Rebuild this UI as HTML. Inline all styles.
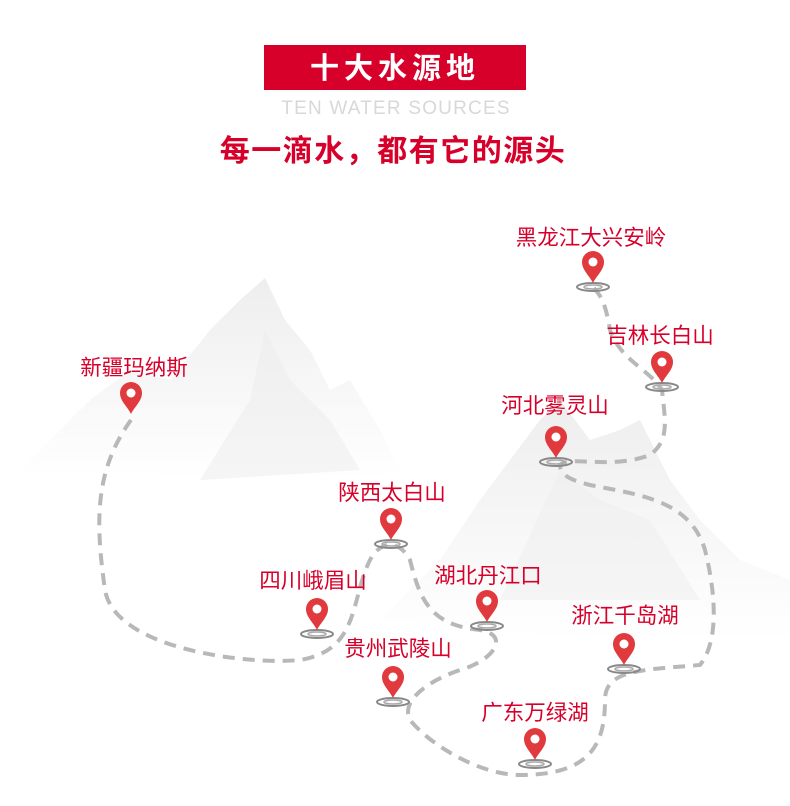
<!DOCTYPE html>
<html><head><meta charset="utf-8"><style>
body{margin:0;background:#fff;width:790px;height:801px;overflow:hidden;font-family:"Liberation Sans","Noto Sans CJK SC",sans-serif}
</style></head><body>
<svg width="790" height="801" viewBox="0 0 790 801" xmlns="http://www.w3.org/2000/svg">
<defs>
<linearGradient id="m" x1="0" y1="0" x2="0" y2="1"><stop offset="0" stop-color="#e2e2e2"/><stop offset="1" stop-color="#fff"/></linearGradient>
<g id="pin"><path d="M0,0 C-4,-8 -11,-13 -11,-21 A11,11 0 1 1 11,-21 C11,-13 4,-8 0,0Z" fill="#e03a3e"/><circle cx="0" cy="-21" r="4.5" fill="#fff"/></g>
<g id="rip"><ellipse cx="0" cy="4" rx="16" ry="4" fill="none" stroke="#888" stroke-width="2"/><ellipse cx="0" cy="4" rx="9" ry="2" fill="none" stroke="#aaa" stroke-width="1.5"/></g>
</defs>
<path d="M20,470 L90,400 L130,370 L170,380 L210,330 L240,300 L265,278 L285,320 L310,350 L330,390 L350,380 L380,430 L400,470 L360,480 Z" fill="url(#m)" opacity="0.6"/>
<path d="M200,480 L250,400 L265,330 L290,380 L330,420 L360,470 Z" fill="#ececec" opacity="0.5"/>
<path d="M380,620 L440,560 L480,500 L540,420 L560,400 L590,440 L620,430 L640,420 L670,480 L700,520 L740,560 L790,580 L790,640 L700,640 L600,640 Z" fill="url(#m)" opacity="0.6"/>
<path d="M500,600 L560,470 L600,500 L650,520 L700,600 Z" fill="#eeeeee" opacity="0.5"/>
<rect x="264" y="45" width="262" height="45" fill="#d7002a"/>
<text x="395" y="78" text-anchor="middle" fill="#fff" font-size="29" font-weight="bold" letter-spacing="5">十大水源地</text>
<text x="396" y="114" text-anchor="middle" fill="#d8d8d8" font-size="19" letter-spacing="1.2">TEN WATER SOURCES</text>
<text x="393" y="161" text-anchor="middle" fill="#d7002a" font-size="30" font-weight="bold" letter-spacing="1.5">每一滴水，都有它的源头</text>
<path d="M131,420 C95,470 95,520 105,590 C115,650 250,665 300,660 C360,650 350,600 370,560 C380,540 400,540 410,560 C420,600 430,625 480,630 C510,635 495,660 460,670 C430,680 400,700 410,720 C430,745 480,775 520,775 C590,775 605,745 605,700 C605,670 640,670 700,665 C720,640 715,590 705,550 C690,500 640,495 590,485 C570,480 560,475 560,465 C570,455 610,470 650,455 C670,440 665,420 662,390 C650,370 620,360 610,330 C605,300 600,295 593,287" fill="none" stroke="#b8b8b8" stroke-width="4" stroke-dasharray="12,8"/>
<g font-size="21.5" fill="#d7002a" text-anchor="middle">
<text x="591" y="245">黑龙江大兴安岭</text>
<text x="660" y="343">吉林长白山</text>
<text x="555" y="413">河北雾灵山</text>
<text x="134" y="375">新疆玛纳斯</text>
<text x="392" y="500">陕西太白山</text>
<text x="313" y="588">四川峨眉山</text>
<text x="488" y="583">湖北丹江口</text>
<text x="398" y="656">贵州武陵山</text>
<text x="625" y="623">浙江千岛湖</text>
<text x="535" y="720">广东万绿湖</text>
</g>
<g transform="translate(593,283)"><use href="#rip"/><use href="#pin"/></g>
<g transform="translate(662,383)"><use href="#rip"/><use href="#pin"/></g>
<g transform="translate(556,458)"><use href="#rip"/><use href="#pin"/></g>
<g transform="translate(131,414)"><use href="#pin"/></g>
<g transform="translate(391,540)"><use href="#rip"/><use href="#pin"/></g>
<g transform="translate(317,630)"><use href="#rip"/><use href="#pin"/></g>
<g transform="translate(487,622)"><use href="#rip"/><use href="#pin"/></g>
<g transform="translate(393,698)"><use href="#rip"/><use href="#pin"/></g>
<g transform="translate(624,665)"><use href="#rip"/><use href="#pin"/></g>
<g transform="translate(535,760)"><use href="#rip"/><use href="#pin"/></g>
</svg>
</body></html>
